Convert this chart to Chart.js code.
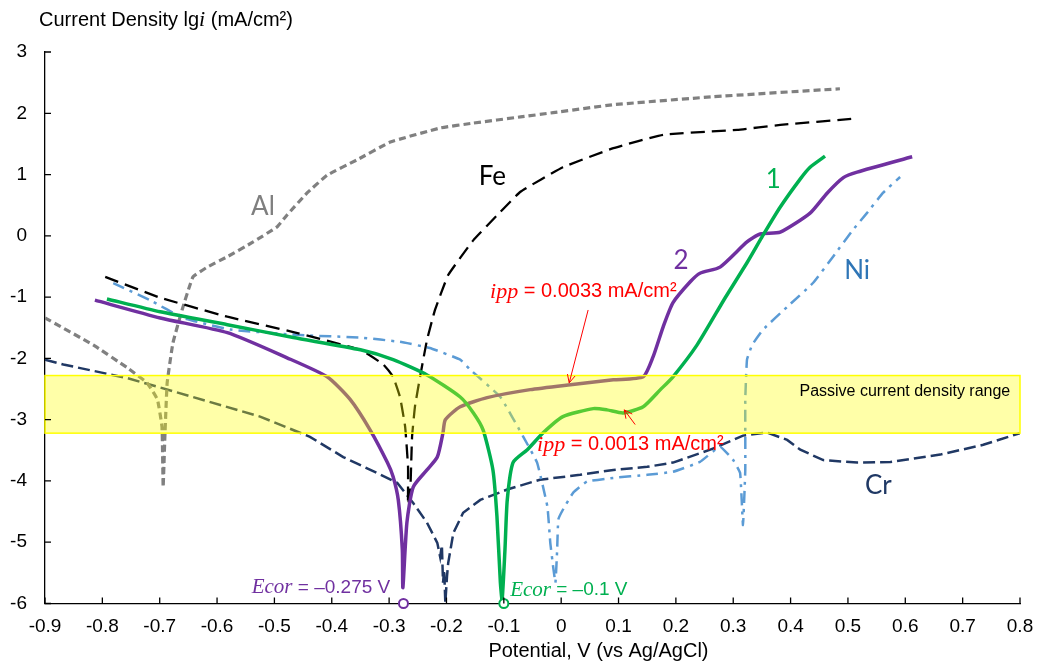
<!DOCTYPE html>
<html>
<head>
<meta charset="utf-8">
<script src="https://cdn.jsdelivr.net/npm/chart.js@4.4.1/dist/chart.umd.min.js"></script>
<style>
  html, body { margin: 0; background: #fff; }
</style>
</head>
<body>
<canvas id="polChart" width="1037" height="666"></canvas>
<script>
// potential (V vs Ag/AgCl) and lg i (mA/cm2)
const alPotential = [-0.900, -0.816, -0.757, -0.722, -0.704, -0.696, -0.694, -0.691, -0.687, -0.677, -0.661, -0.642, -0.617, -0.582, -0.537, -0.495, -0.478, -0.443, -0.408, -0.356, -0.298, -0.211, -0.153, -0.071, -0.014, 0.091, 0.265, 0.486];
const alLogI = [-1.34, -1.78, -2.15, -2.40, -2.67, -3.12, -4.10, -3.28, -2.40, -1.75, -1.21, -0.67, -0.51, -0.34, -0.10, 0.15, 0.34, 0.70, 0.99, 1.24, 1.53, 1.76, 1.84, 1.94, 2.01, 2.14, 2.27, 2.40];

const fePotential = [-0.795, -0.699, -0.582, -0.467, -0.350, -0.310, -0.293, -0.281, -0.272, -0.267, -0.267, -0.263, -0.260, -0.255, -0.246, -0.234, -0.220, -0.197, -0.153, -0.106, -0.071, 0.003, 0.091, 0.178, 0.307, 0.382, 0.509];
const feLogI = [-0.67, -1.01, -1.32, -1.57, -1.86, -2.10, -2.30, -2.63, -3.12, -3.77, -4.39, -4.14, -3.28, -2.79, -2.30, -1.70, -1.21, -0.64, -0.07, 0.39, 0.72, 1.12, 1.43, 1.65, 1.73, 1.81, 1.91];

const niPotential = [-0.781, -0.717, -0.659, -0.577, -0.455, -0.350, -0.281, -0.229, -0.176, -0.159, -0.106, -0.066, -0.042, -0.024, -0.019, -0.014, -0.010, -0.007, -0.005, 0.003, 0.021, 0.045, 0.091, 0.150, 0.195, 0.242, 0.277, 0.300, 0.312, 0.317, 0.321, 0.321, 0.324, 0.333, 0.352, 0.394, 0.439, 0.474, 0.509, 0.533, 0.561, 0.591];
const niLogI = [-0.77, -1.05, -1.34, -1.53, -1.62, -1.66, -1.73, -1.83, -2.02, -2.18, -2.63, -3.28, -3.70, -4.42, -5.01, -5.40, -5.66, -5.12, -4.63, -4.47, -4.19, -4.01, -3.95, -3.90, -3.85, -3.69, -3.44, -3.66, -3.87, -4.72, -3.82, -2.67, -2.02, -1.78, -1.53, -1.16, -0.77, -0.34, 0.10, 0.37, 0.70, 0.96];

const crPotential = [-0.900, -0.868, -0.757, -0.642, -0.525, -0.438, -0.380, -0.321, -0.286, -0.258, -0.234, -0.216, -0.211, -0.208, -0.206, -0.204, -0.202, -0.199, -0.197, -0.188, -0.171, -0.141, -0.094, -0.037, 0.033, 0.091, 0.150, 0.195, 0.260, 0.317, 0.359, 0.394, 0.417, 0.457, 0.516, 0.574, 0.661, 0.736, 0.800];
const crLogI = [-2.02, -2.10, -2.32, -2.63, -2.95, -3.28, -3.61, -3.87, -4.03, -4.36, -4.68, -5.01, -5.24, -5.05, -5.66, -5.45, -5.99, -5.55, -5.34, -4.85, -4.52, -4.31, -4.14, -3.98, -3.90, -3.82, -3.77, -3.70, -3.49, -3.26, -3.21, -3.33, -3.49, -3.66, -3.70, -3.69, -3.57, -3.41, -3.22];

// coating 1 (green) and coating 2 (purple)
const c1Potential = [-0.792, -0.699, -0.582, -0.467, -0.350, -0.293, -0.234, -0.176, -0.153, -0.136, -0.119, -0.112, -0.106, -0.103, -0.098, -0.094, -0.084, -0.059, -0.031, 0.003, 0.056, 0.080, 0.108, 0.143, 0.173, 0.195, 0.237, 0.286, 0.324, 0.352, 0.382, 0.417, 0.434, 0.460];
const c1LogI = [-1.03, -1.24, -1.45, -1.66, -1.86, -2.02, -2.27, -2.63, -2.89, -3.17, -3.82, -4.58, -5.66, -5.94, -5.12, -4.31, -3.70, -3.49, -3.21, -2.95, -2.82, -2.84, -2.89, -2.79, -2.51, -2.30, -1.78, -1.01, -0.44, 0.01, 0.47, 0.93, 1.12, 1.30];

const c2Potential = [-0.813, -0.699, -0.582, -0.478, -0.408, -0.368, -0.333, -0.303, -0.293, -0.284, -0.277, -0.276, -0.269, -0.258, -0.234, -0.216, -0.206, -0.202, -0.176, -0.129, -0.054, 0.016, 0.091, 0.143, 0.160, 0.178, 0.195, 0.225, 0.242, 0.277, 0.324, 0.347, 0.382, 0.434, 0.464, 0.492, 0.516, 0.612];
const c2LogI = [-1.05, -1.34, -1.58, -1.99, -2.30, -2.67, -3.17, -3.70, -3.93, -4.31, -5.12, -5.74, -4.68, -4.10, -3.82, -3.61, -3.21, -3.00, -2.79, -2.64, -2.51, -2.43, -2.35, -2.30, -1.98, -1.48, -1.09, -0.75, -0.61, -0.51, -0.10, 0.03, 0.06, 0.37, 0.70, 0.95, 1.04, 1.29];

const ecorValues = [-0.275, -0.1];
const passiveRange = [-3.22, -2.28];
const xTicks = [-0.9, 0.8, 0.1];
const yTicks = [-6, 3, 1];

const SANS = "'Liberation Sans', Arial, sans-serif";
const SERIF = "'Liberation Serif', 'Times New Roman', serif";
const LABEL = "Lato, 'Open Sans', sans-serif";

function pts(xs, ys) {
  return xs.map((x, i) => ({ x: x, y: ys[i] }));
}

function curve(label, xs, ys, color, width, dash, tension) {
  return {
    label: label,
    data: pts(xs, ys),
    borderColor: color,
    borderWidth: width,
    borderDash: dash,
    showLine: true,
    pointRadius: 0,
    tension: tension,
    fill: false
  };
}

function richText(ctx, parts, x, y, align) {
  let w = 0;
  parts.forEach(p => { ctx.font = p.font; w += ctx.measureText(p.text).width; });
  let cx = align === "right" ? x - w : (align === "center" ? x - w / 2 : x);
  ctx.textAlign = "left";
  ctx.textBaseline = "middle";
  parts.forEach(p => {
    ctx.font = p.font;
    ctx.fillStyle = p.color;
    ctx.fillText(p.text, cx, y);
    cx += ctx.measureText(p.text).width;
  });
}

function arrow(ctx, x1, y1, x2, y2) {
  const ang = Math.atan2(y2 - y1, x2 - x1);
  ctx.beginPath();
  ctx.moveTo(x1, y1);
  ctx.lineTo(x2, y2);
  ctx.moveTo(x2 - 9 * Math.cos(ang - 0.45), y2 - 9 * Math.sin(ang - 0.45));
  ctx.lineTo(x2, y2);
  ctx.lineTo(x2 - 9 * Math.cos(ang + 0.45), y2 - 9 * Math.sin(ang + 0.45));
  ctx.stroke();
}

const overlay = {
  id: "overlay",
  afterDatasetsDraw(chart) {
    const { ctx, chartArea: a, scales: { x, y } } = chart;
    const top = y.getPixelForValue(passiveRange[1]);
    const bot = y.getPixelForValue(passiveRange[0]);
    ctx.save();
    ctx.fillStyle = "rgba(255, 255, 0, 0.34)";
    ctx.fillRect(a.left, top, a.right - a.left, bot - top);
    ctx.strokeStyle = "#ffff00";
    ctx.lineWidth = 1.5;
    ctx.strokeRect(a.left, top, a.right - a.left, bot - top);

    richText(ctx, [{ text: "Passive current density range", font: "16px " + SANS, color: "#000" }],
      x.getPixelForValue(0.783), y.getPixelForValue(-2.54), "right");

    // curve labels
    const labels = [
      ["Al", -0.520, 0.47, "#7f7f7f"],
      ["Fe", -0.120, 0.96, "#000000"],
      ["1", 0.370, 0.91, "#00b050"],
      ["2", 0.209, -0.41, "#7030a0"],
      ["Ni", 0.516, -0.57, "#2e75b6"],
      ["Cr", 0.553, -4.08, "#1f3864"]
    ];
    labels.forEach(l => {
      richText(ctx, [{ text: l[0], font: "26px " + LABEL, color: l[3] }],
        x.getPixelForValue(l[1]), y.getPixelForValue(l[2]), "center");
    });

    // i_pp annotations
    const red = "#ff0000";
    richText(ctx, [
      { text: "ipp", font: "italic 22px " + SERIF, color: red },
      { text: " = 0.0033 mA/cm²", font: "20px " + SANS, color: red }
    ], x.getPixelForValue(-0.124), y.getPixelForValue(-0.915), "left");
    richText(ctx, [
      { text: "ipp", font: "italic 22px " + SERIF, color: red },
      { text: " = 0.0013 mA/cm²", font: "20px " + SANS, color: red }
    ], x.getPixelForValue(-0.042), y.getPixelForValue(-3.41), "left");
    ctx.strokeStyle = red;
    ctx.lineWidth = 1;
    arrow(ctx, x.getPixelForValue(0.047), y.getPixelForValue(-1.21), x.getPixelForValue(0.014), y.getPixelForValue(-2.40));
    arrow(ctx, x.getPixelForValue(0.129), y.getPixelForValue(-3.08), x.getPixelForValue(0.110), y.getPixelForValue(-2.84));

    // corrosion potentials
    richText(ctx, [
      { text: "Ecor", font: "italic 21px " + SERIF, color: "#7030a0" },
      { text: " = –0.275 V", font: "19px " + SANS, color: "#7030a0" }
    ], x.getPixelForValue(-0.298), y.getPixelForValue(-5.74), "right");
    richText(ctx, [
      { text: "Ecor", font: "italic 21px " + SERIF, color: "#00b050" },
      { text: " = –0.1 V", font: "19px " + SANS, color: "#00b050" }
    ], x.getPixelForValue(-0.089), y.getPixelForValue(-5.78), "left");
    ctx.restore();
  },
  afterDraw(chart) {
    const { ctx, chartArea: a, scales: { x, y } } = chart;
    ctx.save();
    ctx.strokeStyle = "#000";
    ctx.lineWidth = 1.3;
    ctx.beginPath();
    x.ticks.forEach(t => {
      const px = x.getPixelForValue(t.value);
      ctx.moveTo(px, a.bottom);
      ctx.lineTo(px, a.bottom - 6);
    });
    y.ticks.forEach(t => {
      const py = y.getPixelForValue(t.value);
      ctx.moveTo(a.left, py);
      ctx.lineTo(a.left + 6, py);
    });
    ctx.stroke();

    richText(ctx, [
      { text: "Current Density lg", font: "20px " + SANS, color: "#000" },
      { text: "i", font: "italic 22px " + SERIF, color: "#000" },
      { text: " (mA/cm²)", font: "20px " + SANS, color: "#000" }
    ], 39, 20, "left");
    richText(ctx, [{ text: "Potential, V (vs Ag/AgCl)", font: "20px " + SANS, color: "#000" }],
      x.getPixelForValue(0.065), 651, "center");
    ctx.restore();
  }
};

const ctx = document.getElementById("polChart").getContext("2d");

const polChart = new Chart(ctx, {
  type: "scatter",
  data: {
    datasets: [
      {
        label: "Ecor",
        data: ecorValues.map(v => ({ x: v, y: yTicks[0] })),
        pointRadius: 4.5,
        pointBorderWidth: 2,
        pointBackgroundColor: "#ffffff",
        pointBorderColor: ["#7030a0", "#00b050"],
        showLine: false,
        clip: false
      },
      curve("1", c1Potential, c1LogI, "#00b050", 3.5, [], 0.2),
      curve("2", c2Potential, c2LogI, "#7030a0", 3.5, [], 0.2),
      curve("Fe", fePotential, feLogI, "#000000", 2.3, [14, 7], 0.1),
      curve("Ni", niPotential, niLogI, "#5b9bd5", 2.5, [12, 6, 3, 6], 0.1),
      curve("Al", alPotential, alLogI, "#808080", 3.2, [7, 4], 0.1),
      curve("Cr", crPotential, crLogI, "#203864", 2.5, [12, 5], 0)
    ]
  },
  options: {
    responsive: false,
    animation: false,
    devicePixelRatio: 1,
    layout: { padding: { left: 0, right: 17, top: 52, bottom: 0 } },
    plugins: {
      legend: { display: false },
      tooltip: { enabled: false }
    },
    scales: {
      x: {
        type: "linear",
        min: xTicks[0],
        max: xTicks[1],
        afterFit: s => { s.height = 62.5; s.paddingLeft = 0; s.paddingRight = 0; },
        ticks: {
          stepSize: xTicks[2],
          padding: 12,
          color: "#000",
          font: { family: SANS, size: 19 },
          maxRotation: 0,
          autoSkip: false,
          callback: v => String(Math.round(v * 10) / 10)
        },
        grid: { display: false, drawTicks: false },
        border: { display: true, color: "#000", width: 1.3 }
      },
      y: {
        type: "linear",
        min: yTicks[0],
        max: yTicks[1],
        afterFit: s => { s.width = 45; s.paddingTop = 0; s.paddingBottom = 0; },
        ticks: {
          stepSize: yTicks[2],
          padding: 18,
          color: "#000",
          font: { family: SANS, size: 19 }
        },
        grid: { display: false, drawTicks: false },
        border: { display: true, color: "#000", width: 1.3 }
      }
    }
  },
  plugins: [overlay]
});
</script>
</body>
</html>
